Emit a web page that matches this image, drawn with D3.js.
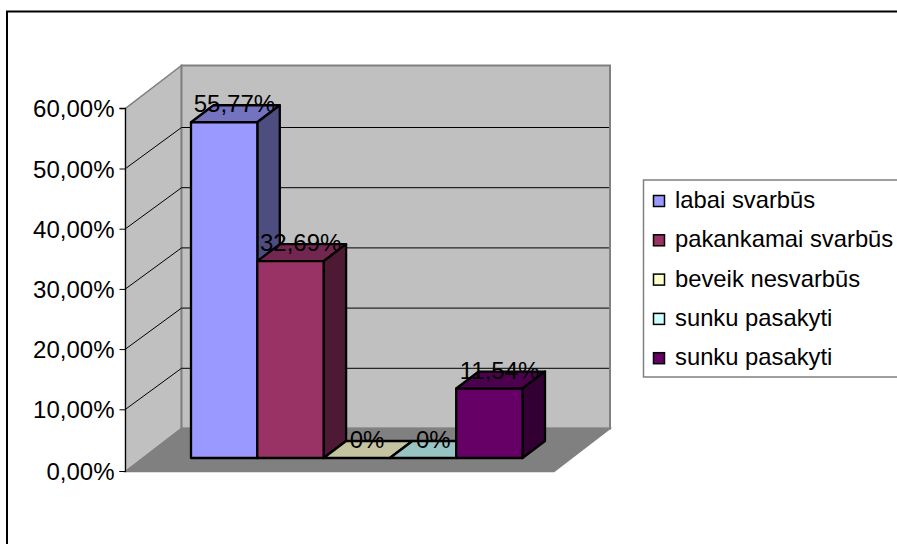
<!DOCTYPE html>
<html>
<head>
<meta charset="utf-8">
<script src="https://cdn.jsdelivr.net/npm/d3@7"></script>
<style>
    html, body { margin: 0; padding: 0; background: #fff; overflow: hidden; }
    svg { display: block; }
    text { font-family: "Liberation Sans", Arial, sans-serif; fill: #000; }
</style>
</head>
<body>
<script>
"use strict";

const categories = ["labai svarbūs", "pakankamai svarbūs", "beveik nesvarbūs", "sunku pasakyti", "sunku pasakyti"];
const values = [55.77, 32.69, 0, 0, 11.54];
const valueLabels = ["55,77%", "32,69%", "0%", "0%", "11,54%"];
const yTicks = [0, 10, 20, 30, 40, 50, 60];
const yTickLabels = ["0,00%", "10,00%", "20,00%", "30,00%", "40,00%", "50,00%", "60,00%"];
const colors = ["#9999ff", "#993366", "#ffffcc", "#ccffff", "#660066"];
const topColors = ["#7373bf", "#732650", "#c4c4a0", "#99c4c4", "#4d004d"];
const sideColors = ["#4d4d80", "#4d1933", "#808066", "#668080", "#330033"];

const width = 897, height = 544;
const svg = d3.select("body").append("svg").attr("width", width).attr("height", height);

// front plane of the box, the back wall is the same thing shifted by depth
const y = d3.scaleLinear().domain([0, 60]).range([469.5, 108.3]);
const x = d3.scaleBand().domain(d3.range(categories.length)).range([191, 522.5]);
const depth = { x: 56, y: -41 };
const barDepth = { x: 22.5, y: -17 };
const barBase = 458;
const floorFront = 471.5;
const wallTop = 65.5;
const front = { left: 125.5, right: 554 };
const barY = d3.scaleLinear().domain([0, 60]).range([barBase, barBase - (y(0) - y(60))]);

const poly = (pts) => pts.map((p) => p.join(",")).join(" ");

// outer frame
svg.append("path")
    .attr("d", "M7,544V11.5H897")
    .attr("fill", "none").attr("stroke", "#000").attr("stroke-width", 2);

// left wall
svg.append("polygon")
    .attr("points", poly([[front.left, floorFront], [front.left, y(60)], [front.left + depth.x, wallTop], [front.left + depth.x, y(0) + depth.y]]))
    .attr("fill", "#c0c0c0").attr("stroke", "#808080").attr("stroke-width", 1.5);

// back wall
svg.append("rect")
    .attr("x", front.left + depth.x).attr("y", wallTop)
    .attr("width", front.right - front.left).attr("height", y(0) + depth.y - wallTop)
    .attr("fill", "#c0c0c0").attr("stroke", "#808080").attr("stroke-width", 2);

// floor
svg.append("polygon")
    .attr("points", poly([[front.left, floorFront], [front.right, floorFront], [front.right + depth.x, y(0) + depth.y], [front.left + depth.x, y(0) + depth.y]]))
    .attr("fill", "#808080").attr("stroke", "#808080").attr("stroke-width", 1.5);

// gridlines
const grid = svg.append("g").attr("fill", "none").attr("stroke", "#000").attr("stroke-width", 1);
yTicks.filter((d) => d > 0 && d < 60).forEach((d) => {
    grid.append("polyline")
        .attr("points", poly([[front.left, y(d)], [front.left + depth.x, y(d) + depth.y], [front.right + depth.x - 1, y(d) + depth.y]]));
});

// axis
const axis = svg.append("g").attr("transform", "translate(" + front.left + ",0)")
    .call(d3.axisLeft(y).tickValues(yTicks).tickSize(6).tickPadding(5).tickFormat((d, i) => yTickLabels[i]));
axis.select(".domain").attr("stroke", "#000").attr("stroke-width", 1.2)
    .attr("d", "M-6," + y(60) + "H0V" + floorFront + "H-6");
axis.selectAll("line").attr("stroke", "#000");
axis.selectAll("text").style("font-size", "24px").attr("fill", "#000").attr("dy", "0.36em");
// the zero tick sits on the floor edge
axis.selectAll(".tick").filter((d) => d === 0).attr("transform", "translate(0," + floorFront + ")");

// bars
const bars = svg.selectAll(".bar").data(values).enter().append("g").attr("class", "bar")
    .attr("stroke", "#000").attr("stroke-width", 2.3).attr("stroke-linejoin", "round");

bars.append("polygon")
    .attr("points", (d, i) => {
        const l = x(i), r = x(i) + x.bandwidth(), t = barY(d);
        return poly([[l, t], [r, t], [r + barDepth.x, t + barDepth.y], [l + barDepth.x, t + barDepth.y]]);
    })
    .attr("fill", (d, i) => topColors[i]);

bars.filter((d) => d > 0).append("polygon")
    .attr("points", (d) => {
        const r = x(values.indexOf(d)) + x.bandwidth(), t = barY(d);
        return poly([[r, t], [r + barDepth.x, t + barDepth.y], [r + barDepth.x, barBase + barDepth.y], [r, barBase]]);
    })
    .attr("fill", (d) => sideColors[values.indexOf(d)]);

bars.filter((d) => d > 0).append("rect")
    .attr("x", (d) => x(values.indexOf(d)))
    .attr("y", (d) => barY(d))
    .attr("width", x.bandwidth())
    .attr("height", (d) => barBase - barY(d))
    .attr("fill", (d) => colors[values.indexOf(d)]);

// value labels
svg.selectAll(".etiqueta").data(values).enter().append("text")
    .attr("class", "etiqueta")
    .attr("text-anchor", "middle")
    .attr("x", (d, i) => x(i) + x.bandwidth() / 2 + barDepth.x / 2 - 1)
    .attr("y", (d) => barY(d) + barDepth.y + 7)
    .style("font-size", "24px")
    .text((d, i) => valueLabels[i]);

// legend
svg.append("path")
    .attr("d", "M897,180H643.5V377H897")
    .attr("fill", "#fff").attr("stroke", "#808080").attr("stroke-width", 1.5);

const leyenda = svg.selectAll(".leyenda").data(categories).enter().append("g")
    .attr("class", "leyenda")
    .attr("transform", (d, i) => "translate(0," + (201 + i * 39.3) + ")");

leyenda.append("rect")
    .attr("x", 653.5).attr("y", -5.5).attr("width", 11).attr("height", 11)
    .attr("fill", (d, i) => colors[i])
    .attr("stroke", "#000").attr("stroke-width", 1.5);

leyenda.append("text")
    .attr("x", 675).attr("y", 7)
    .style("font-size", "23.8px")
    .text((d) => d);
</script>
</body>
</html>
